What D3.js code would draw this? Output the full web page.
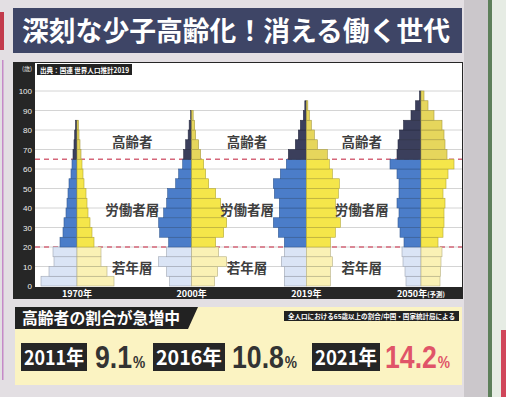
<!DOCTYPE html>
<html><head><meta charset="utf-8">
<script src="https://cdn.jsdelivr.net/npm/d3@7"></script>
<style>
body{margin:0;background:#e3dfe3}
svg{display:block}
text{font-family:"Noto Sans CJK JP",sans-serif}
</style>
</head><body><script>
// population by 5-year age group, millions (left = male, right = female)
var years = ["1970年", "2000年", "2019年", "2050年"]
var ageStarts = [0,5,10,15,20,25,30,35,40,45,50,55,60,65,70,75,80,85,90,95]
var male1970 = [72,56,46,48,34,28,26,22,20,18,16,12,10,8,6,4.6,3]
var female1970 = [74,60,48,48,34,30,26,22,20,18,14,12,10,8,6,4,3]
var male2000 = [44,50,66,50,46,64,66,56,50,48,32,26,18,16,12,7,5,2]
var female2000 = [46,52,70,54,48,64,70,64,58,48,34,28,24,18,14,8,6,3]
var male2019 = [44,44,50,44,44,56,66,54,54,64,66,52,40,36,22,16,12,6,3]
var female2019 = [48,48,52,48,48,58,68,60,58,64,66,52,46,42,22,16,10,6,3]
var male2050 = [30,32,36,38,34,42,46,44,48,44,44,48,62,48,46,43,35,20,11,3]
var female2050 = [38,39,40,42,34,44,46,46,48,44,50,54,66,52,48,46,42,26,14,6]
var yTicks = [0,10,20,30,40,50,60,70,80,90,100]
var groupLabels = [["高齢者", 74], ["労働者層", 39], ["若年層", 9]]
var shareYears = ["2011年", "2016年", "2021年"]
var shares = ["9.1", "10.8", "14.2"]

var pyramids = [
    {year: years[0], male: male1970, female: female1970},
    {year: years[1], male: male2000, female: female2000},
    {year: years[2], male: male2019, female: female2019},
    {year: years[3], male: male2050, female: female2050}
]

var W = 506, H = 397
var svg = d3.select("body").append("svg").attr("width", W).attr("height", H)

// page backdrop
svg.append("rect").attr("width", W).attr("height", H).attr("fill", "#e3dfe3")
svg.append("rect").attr("x", 0).attr("y", 12).attr("width", 4).attr("height", 38).attr("fill", "#c23a4c")
svg.append("rect").attr("x", 2).attr("y", 60).attr("width", 1.5).attr("height", 320).attr("fill", "#c58ac8")
svg.append("rect").attr("x", 464).attr("y", 0).attr("width", 24).attr("height", H).attr("fill", "#cbc7cb")
svg.append("rect").attr("x", 488).attr("y", 0).attr("width", 4).attr("height", H).attr("fill", "#5d7f5a")
svg.append("rect").attr("x", 492).attr("y", 0).attr("width", 14).attr("height", H).attr("fill", "#e6ece4")
svg.append("rect").attr("x", 501).attr("y", 330).attr("width", 5).attr("height", 67).attr("fill", "#d0465a")

// title bar
svg.append("rect").attr("x", 13).attr("y", 8).attr("width", 449).attr("height", 45).attr("fill", "#3e4566")
svg.append("text").text("深刻な少子高齢化！消える働く世代")
    .attr("x", 22).attr("y", 41)
    .attr("font-size", 27).attr("font-weight", "bold").attr("fill", "#fff")
    .attr("textLength", 428).attr("lengthAdjust", "spacingAndGlyphs")

// chart frame
svg.append("rect").attr("x", 13).attr("y", 62).attr("width", 450).attr("height", 237).attr("fill", "#262626")
svg.append("rect").attr("x", 35).attr("y", 63).attr("width", 427).attr("height", 224).attr("fill", "#fff")

var yScale = d3.scaleLinear().domain([0, 100]).range([286, 91])
var wScale = d3.scaleLinear().domain([0, 100]).range([0, 50])
var xCenter = d3.scalePoint().domain(years).range([77, 421])

var plot = svg.append("g")

//gridlines
plot.selectAll(".grid").data(yTicks.slice(1)).enter().append("line")
    .attr("x1", 35).attr("x2", 462)
    .attr("y1", function(d) { return yScale(d) })
    .attr("y2", function(d) { return yScale(d) })
    .attr("stroke", "#d4d4d4").attr("stroke-width", 1)

//boundary lines at 20 and 65
plot.selectAll(".bound").data([20, 65]).enter().append("line")
    .attr("x1", 35).attr("x2", 462)
    .attr("y1", function(d) { return yScale(d) })
    .attr("y2", function(d) { return yScale(d) })
    .attr("stroke", "#d5677a").attr("stroke-width", 1.4).attr("stroke-dasharray", "5,4")

function fillFor(age, side) {
    if (age < 20) return side == "m" ? "#dae4f5" : "#faf1b5"
    if (age < 65) return side == "m" ? "#4b7dc9" : "#f5e64a"
    return side == "m" ? "#3b3f5c" : "#e6d65c"
}

pyramids.forEach(function(p) {
    var cx = xCenter(p.year)
    var g = plot.append("g")
    ;["m", "f"].forEach(function(side) {
        var vals = side == "m" ? p.male : p.female
        g.selectAll(".bar-" + side).data(vals).enter().append("rect")
            .attr("x", function(d) { return side == "m" ? cx - wScale(d) : cx })
            .attr("width", function(d) { return wScale(d) })
            .attr("y", function(d, i) { return yScale(ageStarts[i] + 5) })
            .attr("height", function(d, i) { return yScale(ageStarts[i]) - yScale(ageStarts[i] + 5) })
            .attr("fill", function(d, i) { return fillFor(ageStarts[i], side) })
            .attr("stroke", function(d, i) { return d3.color(fillFor(ageStarts[i], side)).darker(0.9) })
            .attr("stroke-width", 0.6)
    })

    // year label
    var lab = svg.append("text").attr("x", cx).attr("y", 297)
        .attr("text-anchor", "middle").attr("font-size", 9).attr("font-weight", "bold").attr("fill", "#fff")
    lab.append("tspan").text(p.year)
    if (p.year == "2050年") lab.append("tspan").text("(予測)").attr("font-size", 6.5)
})

// group labels between pyramids
for (var k = 0; k < years.length - 1; k++) {
    var mx = (xCenter(years[k]) + xCenter(years[k + 1])) / 2 - 2
    groupLabels.forEach(function(gl) {
        plot.append("text").text(gl[0])
            .attr("x", mx).attr("y", yScale(gl[1]) + 5)
            .attr("text-anchor", "middle").attr("font-size", 13.5).attr("font-weight", "bold")
            .attr("fill", "#3f3f3f")
    })
}

// y axis labels
svg.selectAll(".ytick").data(yTicks).enter().append("text")
    .text(function(d) { return d })
    .attr("x", 32).attr("y", function(d) { return yScale(d) + 3 })
    .attr("text-anchor", "end").attr("font-size", 8).attr("fill", "#eee")
    .style("font-family", "Liberation Sans, sans-serif")
svg.append("text").text("(歳)").attr("x", 32).attr("y", 71)
    .attr("text-anchor", "end").attr("font-size", 6).attr("fill", "#eee")

// source tag
svg.append("rect").attr("x", 37).attr("y", 64).attr("width", 95).attr("height", 11).attr("fill", "#222")
svg.append("text").text("出典：国連 世界人口推計2019").attr("x", 40).attr("y", 72.5)
    .attr("font-size", 7).attr("fill", "#fff").attr("font-weight", "bold")
    .attr("textLength", 89).attr("lengthAdjust", "spacingAndGlyphs")

// bottom panel
svg.append("rect").attr("x", 15).attr("y", 307).attr("width", 447).attr("height", 78).attr("fill", "#fbf3c2")
svg.append("path").attr("d", "M15,307 L198,307 L188,329 L15,329 Z").attr("fill", "#222")
svg.append("text").text("高齢者の割合が急増中").attr("x", 22).attr("y", 324)
    .attr("font-size", 16).attr("font-weight", "bold").attr("fill", "#fff")
    .attr("textLength", 158).attr("lengthAdjust", "spacingAndGlyphs")
svg.append("rect").attr("x", 284).attr("y", 311).attr("width", 175).attr("height", 10).attr("fill", "#222")
svg.append("text").text("全人口における65歳以上の割合/中国・国家統計局による").attr("x", 288).attr("y", 318.5)
    .attr("font-size", 6.5).attr("font-weight", "bold").attr("fill", "#fff")
    .attr("textLength", 167).attr("lengthAdjust", "spacingAndGlyphs")

var boxX = [21, 153, 312], boxW = [66, 72, 68]
var numX = [95, 232, 385]
var numColor = ["#333", "#333", "#e05468"]
shareYears.forEach(function(yr, i) {
    svg.append("rect").attr("x", boxX[i]).attr("y", 343).attr("width", boxW[i]).attr("height", 28).attr("fill", "#262626")
    svg.append("text").text(yr).attr("x", boxX[i] + 3).attr("y", 365)
        .attr("font-size", 20).attr("font-weight", "bold").attr("fill", "#fff")
        .attr("textLength", boxW[i] - 6).attr("lengthAdjust", "spacingAndGlyphs")
    // number and % in one condensed text
    var t = svg.append("text")
        .attr("transform", "translate(" + numX[i] + ",368) scale(0.86,1)")
        .style("font-family", "Liberation Sans, sans-serif")
        .attr("font-weight", "bold").attr("fill", numColor[i])
    t.append("tspan").text(shares[i]).attr("font-size", 31)
    t.append("tspan").text("%").attr("font-size", 16).attr("dx", 1)
})
</script></body></html>
